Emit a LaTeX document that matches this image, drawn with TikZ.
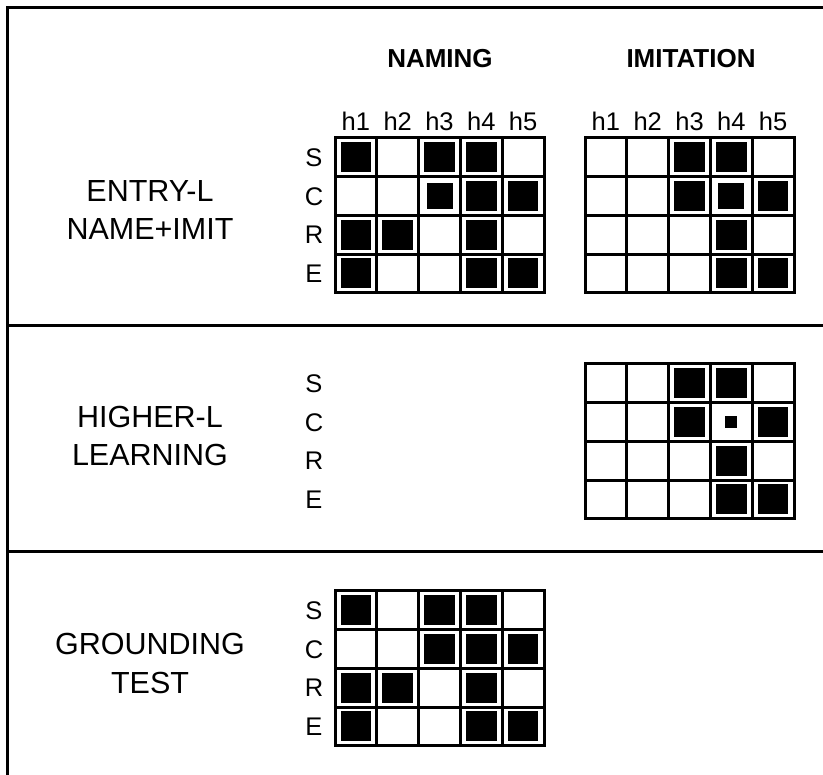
\documentclass[tikz,border=0pt]{standalone}
\usepackage{fontspec}
\setmainfont{Liberation Sans}
\tikzset{
  frameline/.style={line width=3pt},
  gridline/.style={line width=3pt, line cap=rect},
  biglabel/.style={anchor=base, inner sep=0pt, font=\fontsize{30.5}{32}\selectfont},
  collabel/.style={anchor=base, inner sep=0pt, font=\fontsize{25.5}{27}\selectfont},
  headlabel/.style={anchor=base, inner sep=0pt, font=\fontsize{26}{28}\selectfont\bfseries},
}
\newcommand{\mygrid}[3]{%
  \foreach \rw [count=\r from 0] in {#3}{%
    \foreach \v [count=\c from 0] in \rw {%
      \pgfmathsetmacro\cx{#1+(\c+0.5)*41.8}%
      \pgfmathsetmacro\cy{#2+(\r+0.5)*38.7}%
      \ifcase\v\relax
      \or \fill (\cx-15.3,\cy-15) rectangle (\cx+15.3,\cy+15);
      \or \fill (\cx-13,\cy-13) rectangle (\cx+13,\cy+13);
      \or \fill (\cx-6,\cy-6) rectangle (\cx+6,\cy+6);
      \fi
    }%
  }%
  \foreach \i in {0,...,5} \draw[gridline] (#1+\i*41.8,#2) -- (#1+\i*41.8,#2+154.8);
  \foreach \j in {0,...,4} \draw[gridline] (#1,#2+\j*38.7) -- (#1+209,#2+\j*38.7);
}
\newcommand{\rowletters}[2]{%
  \foreach \L [count=\k from 0] in {S,C,R,E}
    \node[collabel] (rl-#2-\L) at (314,#1+\k*38.7+19.35+9.2) {\L};
}
\newcommand{\collabels}[2]{%
  \foreach \k in {1,...,5}
    \node[collabel] (cl-#2-\k) at (#1+\k*41.8-20.9,131) {h\k};
}
\begin{document}
\begin{tikzpicture}[x=1pt,y=-1pt]
\useasboundingbox (0,0) rectangle (823,775);
% frame
\draw[frameline] (823,8) -- (7.5,8) -- (7.5,775);
\draw[frameline] (7.5,325.5) -- (823,325.5);
\draw[frameline] (7.5,551.5) -- (823,551.5);
% headings
\node[headlabel] (naming) at (440,68) {NAMING};
\node[headlabel] (imitation) at (691,68) {IMITATION};
\collabels{335}{n}
\collabels{585}{i}
% row labels
\node[biglabel] (entry1) at (150,202) {ENTRY-L};
\node[biglabel] (entry2) at (150,240) {NAME+IMIT};
\node[biglabel] (higher1) at (150,428) {HIGHER-L};
\node[biglabel] (higher2) at (150,466) {LEARNING};
\node[biglabel] (ground1) at (150,655) {GROUNDING};
\node[biglabel] (ground2) at (150,693) {TEST};
\rowletters{138}{a}
\rowletters{364}{b}
\rowletters{591}{c}
% grids
\mygrid{335}{138}{{1,0,1,1,0},{0,0,2,1,1},{1,1,0,1,0},{1,0,0,1,1}}
\mygrid{585}{138}{{0,0,1,1,0},{0,0,1,2,1},{0,0,0,1,0},{0,0,0,1,1}}
\mygrid{585}{364}{{0,0,1,1,0},{0,0,1,3,1},{0,0,0,1,0},{0,0,0,1,1}}
\mygrid{335}{591}{{1,0,1,1,0},{0,0,1,1,1},{1,1,0,1,0},{1,0,0,1,1}}
\end{tikzpicture}
\end{document}
